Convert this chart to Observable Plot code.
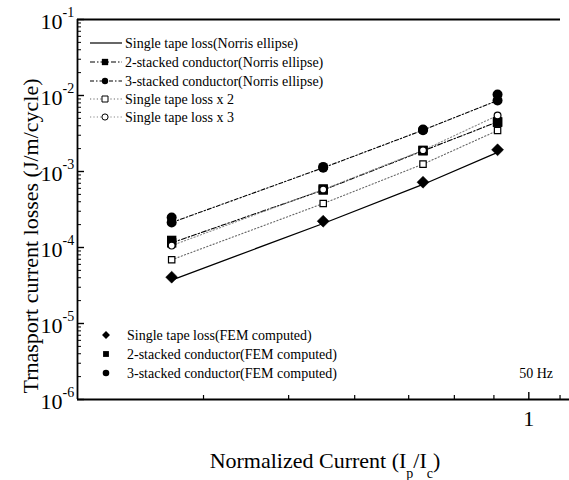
<!DOCTYPE html>
<html>
<head>
<meta charset="utf-8">
<script src="https://cdn.jsdelivr.net/npm/d3@7"></script>
<script src="https://cdn.jsdelivr.net/npm/@observablehq/plot@0.6"></script>
<style>
  html, body { margin: 0; padding: 0; background: #fff; }
  #chart svg { display: block; }
</style>
</head>
<body>
<div id="chart"></div>
<script>
// ---------- data ----------
const currents = [0.3, 0.5, 0.7, 0.9];               // Ip/Ic
const norrisSingle = [3.73e-5, 2.07e-4, 6.75e-4, 1.78e-3];
const norris2 = [1.15e-4, 5.7e-4, 1.87e-3, 4.5e-3];
const norris3 = [2.13e-4, 1.12e-3, 3.5e-3, 8.6e-3];
const singleX2 = [6.9e-5, 3.79e-4, 1.25e-3, 3.46e-3];
const singleX3 = [1.06e-4, 5.8e-4, 1.9e-3, 5.46e-3];
const femSingle = [4.07e-5, 2.22e-4, 7.23e-4, 1.93e-3];
const fem2 = [1.24e-4, 5.9e-4, 1.9e-3, 4.45e-3];
const fem3 = [2.48e-4, 1.15e-3, 3.56e-3, 1.03e-2];

// ---------- axes / ticks ----------
const xDomain = [0.2184, 1.147];
const yDomain = [1e-6, 1e-1];
const xMajorTicks = [1];
const xMajorLabels = ["1"];
const xMinorTicks = [0.334, 0.445, 0.556, 0.667, 0.778, 0.889, 1.111];
const yMajorTicks = [1e-1, 1e-2, 1e-3, 1e-4, 1e-5, 1e-6];
const yMajorBase = ["10", "10", "10", "10", "10", "10"];
const yMajorExp = ["-1", "-2", "-3", "-4", "-5", "-6"];
const yMinorMantissas = [2, 3, 4, 5, 6, 7, 8, 9];
const yMinorDecades = [1e-6, 1e-5, 1e-4, 1e-3, 1e-2];
const yMinorTicks = yMinorDecades.flatMap(d => yMinorMantissas.map(m => m * d));

// ---------- texts ----------
const xLabelParts = ["Normalized Current (I", "p", "/I", "c", ")"];
const yLabel = "Trnasport current losses (J/m/cycle)";
const noteText = "50 Hz";
const legendTopLabels = [
  "Single tape loss(Norris ellipse)",
  "2-stacked conductor(Norris ellipse)",
  "3-stacked conductor(Norris ellipse)",
  "Single tape loss x 2",
  "Single tape loss x 3"
];
const legendBottomLabels = [
  "Single tape loss(FEM computed)",
  "2-stacked conductor(FEM computed)",
  "3-stacked conductor(FEM computed)"
];

const rows = vals => currents.map((x, i) => ({x, y: vals[i]}));
const FONT = "'Liberation Serif', 'Times New Roman', serif";

const W = 569, H = 480, mL = 77, mR = 0, mT = 19, mB = 81;
const innerW = W - mL - mR, innerH = H - mT - mB;

const dash2 = "5,2,1.5,2";
const dash3 = "4,2,1.5,2";
const dotted = "1.2,2.2";

const chart = Plot.plot({
  width: W, height: H,
  marginLeft: mL, marginRight: mR, marginTop: mT, marginBottom: mB,
  x: {type: "log", domain: xDomain, axis: null},
  y: {type: "log", domain: yDomain, axis: null},
  style: {fontFamily: FONT, background: "white", color: "black", overflow: "visible"},
  marks: [
    // frame lines
    Plot.ruleX([xDomain[0]], {stroke: "black", strokeWidth: 1.8}),
    Plot.ruleY([yDomain[0]], {stroke: "black", strokeWidth: 1.8}),
    Plot.ruleY([yDomain[1]], {stroke: "black", strokeWidth: 1.8, insetRight: 9}),
    // ticks (inward)
    Plot.tickX(xMinorTicks, {x: d => d, stroke: "black", strokeWidth: 1.2, insetTop: innerH - 4}),
    Plot.tickX(xMajorTicks, {x: d => d, stroke: "black", strokeWidth: 1.4, insetTop: innerH - 7}),
    Plot.tickY(yMinorTicks, {y: d => d, stroke: "black", strokeWidth: 1, insetRight: innerW - 4}),
    Plot.tickY(yMajorTicks, {y: d => d, stroke: "black", strokeWidth: 1.4, insetRight: innerW - 7}),
    // tick labels
    Plot.text(xMajorTicks, {x: d => d, frameAnchor: "bottom", text: (d, i) => xMajorLabels[i],
      dy: 26, fontSize: 22, fill: "black"}),
    Plot.text(yMajorTicks, {y: d => d, frameAnchor: "left", text: (d, i) => yMajorBase[i],
      textAnchor: "end", dx: -15, dy: 2, fontSize: 22, fill: "black"}),
    Plot.text(yMajorTicks, {y: d => d, frameAnchor: "left", text: (d, i) => yMajorExp[i],
      textAnchor: "start", dx: -15, dy: -7, fontSize: 14, fill: "black"}),
    // lines
    Plot.line(rows(norrisSingle), {x: "x", y: "y", stroke: "black", strokeWidth: 1.3}),
    Plot.line(rows(norris2), {x: "x", y: "y", stroke: "black", strokeWidth: 1.1, strokeDasharray: dash2}),
    Plot.line(rows(norris3), {x: "x", y: "y", stroke: "black", strokeWidth: 1.1, strokeDasharray: dash3}),
    Plot.line(rows(singleX2), {x: "x", y: "y", stroke: "#666", strokeWidth: 1.1, strokeDasharray: dotted}),
    Plot.line(rows(singleX3), {x: "x", y: "y", stroke: "#888", strokeWidth: 1.1, strokeDasharray: dotted}),
    // filled markers
    Plot.dot(rows(norris2), {x: "x", y: "y", symbol: "square", r: 5.3, fill: "black", stroke: "none"}),
    Plot.dot(rows(fem2), {x: "x", y: "y", symbol: "square", r: 5.3, fill: "black", stroke: "none"}),
    Plot.dot(rows(norris3), {x: "x", y: "y", symbol: "circle", r: 5, fill: "black", stroke: "none"}),
    Plot.dot(rows(fem3), {x: "x", y: "y", symbol: "circle", r: 5, fill: "black", stroke: "none"}),
    Plot.dot(rows(femSingle), {x: "x", y: "y", symbol: "diamond2", r: 5.4, fill: "black", stroke: "black", strokeWidth: 0.5}),
    // open markers
    Plot.dot(rows(singleX2), {x: "x", y: "y", symbol: "square", r: 3.6, fill: "white", stroke: "black", strokeWidth: 1.2}),
    Plot.dot(rows(singleX3), {x: "x", y: "y", symbol: "circle", r: 3.4, fill: "white", stroke: "black", strokeWidth: 1.2})
  ]
});

document.getElementById("chart").appendChild(chart);

// ---------- labels & legends (decoration) ----------
const svg = d3.select(chart);
const g = svg.append("g").attr("font-family", FONT).attr("fill", "black");

// y label
g.append("text")
  .attr("transform", "translate(38,236) rotate(-90)")
  .attr("text-anchor", "middle")
  .attr("font-size", 22)
  .text(yLabel);

// x label with subscripts
const xl = g.append("text")
  .attr("x", 325).attr("y", 468)
  .attr("text-anchor", "middle")
  .attr("font-size", 22);
xl.append("tspan").text(xLabelParts[0]);
xl.append("tspan").attr("font-size", 14).attr("dy", 10).text(xLabelParts[1]);
xl.append("tspan").attr("dy", -10).text(xLabelParts[2]);
xl.append("tspan").attr("font-size", 14).attr("dy", 10).text(xLabelParts[3]);
xl.append("tspan").attr("dy", -10).text(xLabelParts[4]);

// note
g.append("text").attr("x", 553).attr("y", 373).attr("dy", "0.35em")
  .attr("text-anchor", "end").attr("font-size", 14).text(noteText);

// top legend
const topRowsY = [43, 62, 81, 99, 117];
const topStyles = [
  {dash: "none", stroke: "black", sym: null},
  {dash: dash2, stroke: "black", sym: d3.symbolSquare, size: 40, fill: "black"},
  {dash: dash3, stroke: "black", sym: d3.symbolCircle, size: 32, fill: "black"},
  {dash: dotted, stroke: "#666", sym: d3.symbolSquare, size: 36, fill: "white"},
  {dash: dotted, stroke: "#888", sym: d3.symbolCircle, size: 30, fill: "white"}
];
legendTopLabels.forEach((lab, i) => {
  const y = topRowsY[i], s = topStyles[i];
  g.append("line").attr("x1", 90).attr("x2", 122).attr("y1", y).attr("y2", y)
    .attr("stroke", s.stroke).attr("stroke-width", 1.2)
    .attr("stroke-dasharray", s.dash);
  if (s.sym) {
    g.append("path").attr("d", d3.symbol(s.sym, s.size)())
      .attr("transform", `translate(105,${y})`)
      .attr("fill", s.fill).attr("stroke", "black").attr("stroke-width", s.fill === "white" ? 1 : 0);
  }
  g.append("text").attr("x", 125).attr("y", y).attr("dy", "0.35em")
    .attr("text-anchor", "start")
    .attr("font-size", 14).text(lab);
});

// bottom legend
const botRowsY = [335, 354, 373];
const botSyms = [
  {sym: d3.symbolDiamond2, size: 40},
  {sym: d3.symbolSquare, size: 34},
  {sym: d3.symbolCircle, size: 34}
];
legendBottomLabels.forEach((lab, i) => {
  const y = botRowsY[i];
  g.append("path").attr("d", d3.symbol(botSyms[i].sym, botSyms[i].size)())
    .attr("transform", `translate(106,${y})`).attr("fill", "black");
  g.append("text").attr("x", 127).attr("y", y).attr("dy", "0.35em")
    .attr("text-anchor", "start")
    .attr("font-size", 14).text(lab);
});
</script>
</body>
</html>
